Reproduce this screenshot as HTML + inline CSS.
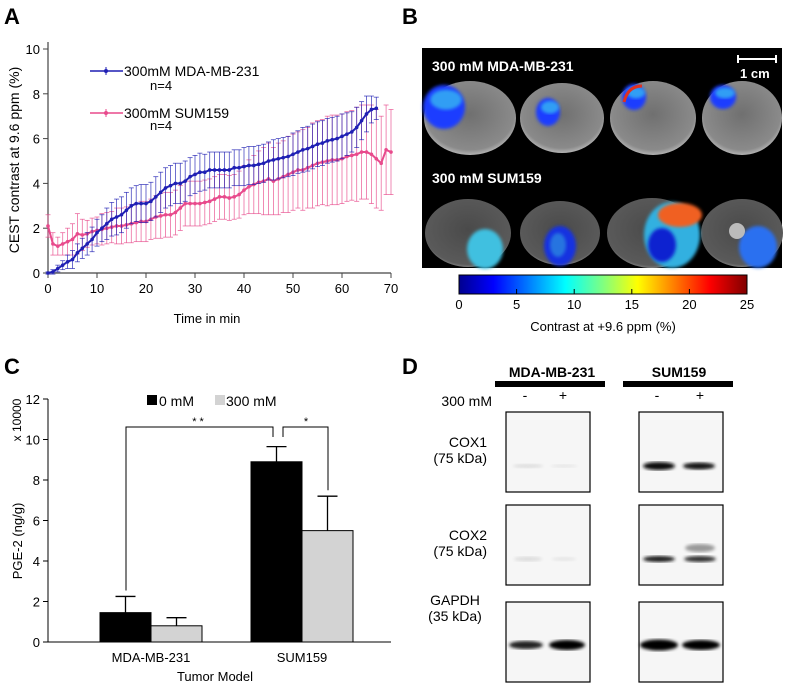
<!DOCTYPE html>
<html><head><meta charset="utf-8"><style>
body{margin:0;background:#fff;}
svg{display:block;font-family:"Liberation Sans",Arial,sans-serif;}
</style></head><body>
<svg id="fig" width="788" height="685" viewBox="0 0 788 685" xmlns="http://www.w3.org/2000/svg">
<defs>
<linearGradient id="jet" x1="0" x2="1" y1="0" y2="0">
<stop offset="0" stop-color="#00008f"/><stop offset="0.12" stop-color="#0000ff"/><stop offset="0.37" stop-color="#00ffff"/><stop offset="0.5" stop-color="#80ff80"/><stop offset="0.62" stop-color="#ffff00"/><stop offset="0.87" stop-color="#ff0000"/><stop offset="1" stop-color="#800000"/>
</linearGradient>
<radialGradient id="mri" cx="0.5" cy="0.45" r="0.6"><stop offset="0" stop-color="#707070"/><stop offset="0.8" stop-color="#8a8a8a"/><stop offset="1" stop-color="#d0d0d0"/></radialGradient>
<radialGradient id="mri2" cx="0.5" cy="0.45" r="0.6"><stop offset="0" stop-color="#4a4a4a"/><stop offset="0.85" stop-color="#5a5a5a"/><stop offset="1" stop-color="#a0a0a0"/></radialGradient>
<filter id="blur"><feGaussianBlur stdDeviation="1.6"/></filter>
</defs>
<text x="4" y="24" font-size="22" font-weight="bold">A</text>
<text x="402" y="24" font-size="22" font-weight="bold">B</text>
<text x="4" y="374" font-size="22" font-weight="bold">C</text>
<text x="402" y="374" font-size="22" font-weight="bold">D</text>
<g id="pa"></g>
<g id="pb"></g>
<g id="pc"></g>
<g id="pd"></g>
</svg>
<script>
// ---- Panel A data ----
const timeMin = [0,1,2,3,4,5,6,7,8,9,10,11,12,13,14,15,16,17,18,19,20,21,22,23,24,25,26,27,28,29,30,31,32,33,34,35,36,37,38,39,40,41,42,43,44,45,46,47,48,49,50,51,52,53,54,55,56,57,58,59,60,61,62,63,64,65,66,67,68,69,70];
const mdaMean = [0,0.05,0.2,0.35,0.5,0.6,0.9,1.1,1.3,1.5,1.8,2.0,2.2,2.4,2.5,2.6,2.8,3.0,3.1,3.1,3.1,3.2,3.4,3.6,3.8,3.9,4.0,4.0,4.1,4.3,4.4,4.5,4.5,4.6,4.6,4.6,4.6,4.6,4.7,4.7,4.75,4.8,4.8,4.85,4.9,5.0,5.05,5.1,5.15,5.2,5.3,5.4,5.5,5.55,5.65,5.75,5.8,5.9,5.95,6.0,6.1,6.2,6.3,6.5,6.8,7.1,7.3,7.35];
const mdaErr = [0.05,0.1,0.15,0.2,0.3,0.4,0.4,0.45,0.5,0.55,0.6,0.6,0.7,0.75,0.8,0.8,0.8,0.8,0.8,0.85,0.85,0.85,0.9,0.9,0.9,0.9,0.9,0.9,0.9,0.85,0.85,0.85,0.8,0.8,0.8,0.8,0.8,0.8,0.8,0.8,0.85,0.85,0.85,0.85,0.85,0.85,0.9,0.9,0.9,0.9,0.95,0.95,1.0,1.0,1.0,1.0,1.0,1.0,1.0,1.0,1.0,0.95,0.9,0.9,0.85,0.8,0.6,0.5];
const sumMean = [2.1,1.3,1.2,1.3,1.4,1.5,1.75,1.7,1.75,1.85,1.9,1.95,2.0,2.05,2.1,2.1,2.15,2.2,2.25,2.3,2.3,2.4,2.5,2.55,2.6,2.6,2.7,2.9,3.1,3.1,3.1,3.1,3.15,3.2,3.3,3.4,3.4,3.35,3.4,3.5,3.7,3.85,3.95,4.05,4.1,4.2,4.1,4.2,4.3,4.4,4.5,4.6,4.6,4.7,4.8,4.9,4.95,5.0,5.05,5.05,5.1,5.2,5.25,5.3,5.4,5.4,5.3,5.1,4.9,5.5,5.4];
const sumErr = [0.5,0.5,0.4,0.5,0.6,0.7,0.9,0.7,0.6,0.6,0.6,0.7,0.7,0.7,0.8,0.8,0.8,0.85,0.85,0.9,0.9,0.9,0.95,1.0,1.0,1.0,1.0,1.0,1.0,1.0,1.0,1.0,1.0,1.0,1.0,1.0,1.0,1.0,1.0,1.05,1.1,1.2,1.3,1.4,1.5,1.6,1.5,1.6,1.6,1.7,1.7,1.7,1.8,1.8,1.9,1.9,1.9,2.0,2.0,2.0,2.0,2.0,2.0,2.1,2.1,2.1,2.2,2.2,2.1,2.0,1.9];
const aXTicks = [0,10,20,30,40,50,60,70];
const aYTicks = [0,2,4,6,8,10];
// ---- Panel C data ----
const cCategories = ['MDA-MB-231','SUM159'];
const cSeries0 = [1.45,8.9];
const cSeries300 = [0.8,5.5];
const cErr0 = [0.8,0.75];
const cErr300 = [0.4,1.7];
const cYTicks = [0,2,4,6,8,10,12];
// ---- Panel B colorbar ticks ----
const bTicks = [0,5,10,15,20,25];

const NS='http://www.w3.org/2000/svg';
function mk(parent,tag,attrs,txt){const e=document.createElementNS(NS,tag);for(const k in attrs)e.setAttribute(k,attrs[k]);if(txt!==undefined)e.textContent=txt;parent.appendChild(e);return e;}

// ===== Panel A =====
(function(){
const g=document.getElementById('pa');
const xA=v=>48+v*(391-48)/70, yA=v=>273-v*(273-49)/10;
let e=mk(g,'line',{x1:48,y1:42,x2:48,y2:273,stroke:'#444','stroke-width':1.2});

e=mk(g,'line',{x1:48,y1:273,x2:391,y2:273,stroke:'#444','stroke-width':1.2});

aXTicks.forEach(t=>{mk(g,'line',{x1:xA(t),y1:273,x2:xA(t),y2:278,stroke:'#444'});
 e=mk(g,'text',{x:xA(t),y:293,'font-size':13,'text-anchor':'middle'},String(t));
 });
aYTicks.forEach(t=>{mk(g,'line',{x1:43,y1:yA(t),x2:48,y2:yA(t),stroke:'#444'});
 e=mk(g,'text',{x:40,y:yA(t)+5,'font-size':13,'text-anchor':'end'},String(t));
 });
e=mk(g,'text',{x:207,y:323,'font-size':13,'text-anchor':'middle'},'Time in min');

e=mk(g,'text',{x:0,y:0,'font-size':14,'text-anchor':'middle',transform:'translate(19,160) rotate(-90)'},'CEST contrast at 9.6 ppm (%)');

function series(mean,err,color,name){
 const sg=mk(g,'g',{});
 mean.forEach((m,i)=>{const x=xA(timeMin[i]);
  mk(sg,'line',{x1:x,y1:yA(m-err[i]),x2:x,y2:yA(m+err[i]),stroke:color,'stroke-width':0.8,opacity:0.8});
  mk(sg,'line',{x1:x-2.5,y1:yA(m+err[i]),x2:x+2.5,y2:yA(m+err[i]),stroke:color,'stroke-width':0.8,opacity:0.8});
  mk(sg,'line',{x1:x-2.5,y1:yA(m-err[i]),x2:x+2.5,y2:yA(m-err[i]),stroke:color,'stroke-width':0.8,opacity:0.8});});
 const pts=mean.map((m,i)=>xA(timeMin[i])+','+yA(m)).join(' ');
 mk(sg,'polyline',{points:pts,fill:'none',stroke:color,'stroke-width':2});
 mean.forEach((m,i)=>{const c=mk(sg,'circle',{cx:xA(timeMin[i]),cy:yA(m),r:1.8,fill:color});
  });
}
series(sumMean,sumErr,'#e84a8c','series-sum159');
series(mdaMean,mdaErr,'#1f1fb4','series-mda-mb-231');
const lg=mk(g,'g',{});
[[71,'#1f1fb4','300mM MDA-MB-231',90],[113,'#e84a8c','300mM SUM159',130]].forEach(r=>{
 mk(lg,'line',{x1:90,y1:r[0],x2:123,y2:r[0],stroke:r[1],'stroke-width':1.5});
 mk(lg,'line',{x1:106,y1:r[0]-4,x2:106,y2:r[0]+4,stroke:r[1]});
 mk(lg,'circle',{cx:106,cy:r[0],r:2,fill:r[1]});
 e=mk(lg,'text',{x:124,y:r[0]+5,'font-size':14},r[2]);
 
 mk(lg,'text',{x:150,y:r[3],'font-size':13},'n=4');});
})();

// ===== Panel B =====
(function(){
const g=document.getElementById('pb');
let e=mk(g,'rect',{x:422,y:48,width:360,height:220,fill:'#000'});

const top=[[470,118,46,37],[562,118,42,35],[653,118,43,37],[742,118,40,37]];
const bot=[[468,233,43,34],[560,233,40,32],[652,233,45,35],[742,233,41,34]];
top.forEach(c=>{e=mk(g,'ellipse',{cx:c[0],cy:c[1],rx:c[2],ry:c[3],fill:'url(#mri)'});
 });
bot.forEach(c=>{e=mk(g,'ellipse',{cx:c[0],cy:c[1],rx:c[2],ry:c[3],fill:'url(#mri2)'});
 });
const blobsT=[[444,107,21,22],[548,112,12,14],[634,97,12,13],[723,97,13,12]];
blobsT.forEach(b=>{mk(g,'ellipse',{cx:b[0],cy:b[1],rx:b[2],ry:b[3],fill:'#1a3cff',filter:'url(#blur)'});
 mk(g,'ellipse',{cx:b[0]+2,cy:b[1]-b[3]/3,rx:b[2]*0.75,ry:b[3]*0.45,fill:'#3ac8f0',opacity:0.7,filter:'url(#blur)'});});
mk(g,'path',{d:'M624,102 Q628,86 642,86',stroke:'#e03020','stroke-width':3,fill:'none'});
const blobsB=[[485,249,18,20,'#40c0e0'],[560,246,16,20,'#1530e0'],[672,235,28,33,'#30b0e0'],[758,247,19,21,'#2a70f0']];
blobsB.forEach(b=>{mk(g,'ellipse',{cx:b[0],cy:b[1],rx:b[2],ry:b[3],fill:b[4],filter:'url(#blur)'});});
mk(g,'ellipse',{cx:558,cy:245,rx:8,ry:12,fill:'#30a0e0',opacity:0.6,filter:'url(#blur)'});
mk(g,'ellipse',{cx:680,cy:215,rx:22,ry:12,fill:'#f06020',filter:'url(#blur)'});
mk(g,'ellipse',{cx:662,cy:245,rx:14,ry:17,fill:'#1020d0',filter:'url(#blur)'});
mk(g,'circle',{cx:737,cy:231,r:8,fill:'#bbb'});
e=mk(g,'text',{x:432,y:71,'font-size':14,'font-weight':'bold',fill:'#fff'},'300 mM MDA-MB-231');

e=mk(g,'text',{x:432,y:183,'font-size':14,'font-weight':'bold',fill:'#fff'},'300 mM SUM159');

mk(g,'path',{d:'M738,55 v8 M738,59 H776 M776,55 v8',stroke:'#fff','stroke-width':2,fill:'none'});
e=mk(g,'text',{x:740,y:78,'font-size':13,'font-weight':'bold',fill:'#fff'},'1 cm');

e=mk(g,'rect',{x:459,y:275,width:288,height:19,fill:'url(#jet)',stroke:'#000','stroke-width':1});

const xB=v=>459+v*288/25;
bTicks.forEach(t=>{mk(g,'line',{x1:xB(t),y1:289,x2:xB(t),y2:294,stroke:'#000'});
 e=mk(g,'text',{x:xB(t),y:309,'font-size':13,'text-anchor':'middle'},String(t));
 });
e=mk(g,'text',{x:603,y:331,'font-size':13,'text-anchor':'middle'},'Contrast at +9.6 ppm (%)');

})();

// ===== Panel C =====
(function(){
const g=document.getElementById('pc');
const yC=v=>642-v*(642-399)/12;
const groupX=[151,302], bw=51;
let e=mk(g,'line',{x1:48,y1:399,x2:48,y2:642,stroke:'#000'});

e=mk(g,'line',{x1:48,y1:642,x2:391,y2:642,stroke:'#000'});

cYTicks.forEach(t=>{mk(g,'line',{x1:43,y1:yC(t),x2:48,y2:yC(t),stroke:'#000'});
 e=mk(g,'text',{x:40,y:yC(t)+5,'font-size':13,'text-anchor':'end'},String(t));
 });
cCategories.forEach((c,i)=>{
 const x=groupX[i];
 e=mk(g,'rect',{x:x-bw,y:yC(cSeries0[i]),width:bw,height:yC(0)-yC(cSeries0[i]),fill:'#000',stroke:'#000'});
 
 e=mk(g,'rect',{x:x,y:yC(cSeries300[i]),width:bw,height:yC(0)-yC(cSeries300[i]),fill:'#d3d3d3',stroke:'#000'});
 
 [[x-bw/2,cSeries0[i],cErr0[i]],[x+bw/2,cSeries300[i],cErr300[i]]].forEach(b=>{
  mk(g,'line',{x1:b[0],y1:yC(b[1]),x2:b[0],y2:yC(b[1]+b[2]),stroke:'#000','stroke-width':1.3});
  mk(g,'line',{x1:b[0]-10,y1:yC(b[1]+b[2]),x2:b[0]+10,y2:yC(b[1]+b[2]),stroke:'#000','stroke-width':1.3});});
 e=mk(g,'text',{x:x,y:662,'font-size':13,'text-anchor':'middle'},c);
 });
e=mk(g,'text',{x:215,y:681,'font-size':13,'text-anchor':'middle'},'Tumor Model');

e=mk(g,'text',{x:0,y:0,'font-size':13,'text-anchor':'middle',transform:'translate(22,541) rotate(-90)'},'PGE-2 (ng/g)');

e=mk(g,'text',{x:0,y:0,'font-size':12,'text-anchor':'middle',transform:'translate(21,420) rotate(-90)'},'x 10000');

const lg=mk(g,'g',{});
mk(lg,'rect',{x:147,y:395,width:10,height:10,fill:'#000'});
mk(lg,'text',{x:159,y:406,'font-size':14},'0 mM');
mk(lg,'rect',{x:215,y:395,width:10,height:10,fill:'#d3d3d3'});
mk(lg,'text',{x:226,y:406,'font-size':14},'300 mM');
const by=427;
mk(g,'path',{d:`M126,${yC(cSeries0[0]+cErr0[0])-6} V${by} H273 V${by+10}`,stroke:'#000',fill:'none'});
mk(g,'path',{d:`M283,${by+10} V${by} H328 V${yC(cSeries300[1]+cErr300[1])-6}`,stroke:'#000',fill:'none'});
e=mk(g,'text',{x:198,y:425,'font-size':11,'text-anchor':'middle'},'* *');

e=mk(g,'text',{x:306,y:425,'font-size':11,'text-anchor':'middle'},'*');

})();

// ===== Panel D =====
(function(){
const g=document.getElementById('pd');
let e;
[[552,495,'MDA-MB-231'],[679,623,'SUM159']].forEach(h=>{
 e=mk(g,'text',{x:h[0],y:377,'font-size':14,'font-weight':'bold','text-anchor':'middle'},h[2]);
 
 mk(g,'rect',{x:h[1],y:381,width:110,height:6,fill:'#000'});});
e=mk(g,'text',{x:492,y:406,'font-size':14,'text-anchor':'end'},'300 mM');

[[525,'-'],[563,'+'],[657,'-'],[700,'+']].forEach(s=>mk(g,'text',{x:s[0],y:400,'font-size':14,'text-anchor':'middle'},s[1]));
const rows=[[412,'COX1','(75 kDa)',447],[505,'COX2','(75 kDa)',540],[602,'GAPDH','(35 kDa)',605]];
rows.forEach(r=>{
 e=mk(g,'text',{x:r[1]==='GAPDH'?455:487,y:r[3],'font-size':14,'text-anchor':r[1]==='GAPDH'?'middle':'end'},r[1]);
 
 mk(g,'text',{x:r[1]==='GAPDH'?455:487,y:r[3]+16,'font-size':14,'text-anchor':r[1]==='GAPDH'?'middle':'end'},r[2]);
 [506,639].forEach(x=>{e=mk(g,'rect',{x:x,y:r[0],width:84,height:80,fill:'#f6f6f6',stroke:'#000','stroke-width':1.2});
  });});
function band(x,y,w,h,c){mk(g,'ellipse',{cx:x,cy:y,rx:w/2,ry:h/2,fill:c,filter:'url(#blur)'});}
band(528,466,30,4,'#ddd');band(564,466,26,3,'#e4e4e4');
band(659,466,32,8,'#111');band(699,466,32,7,'#181818');
band(528,559,28,5,'#ddd');band(564,559,24,4,'#e6e6e6');
band(659,559,32,6,'#1a1a1a');band(700,559,32,6,'#333');band(700,548,30,8,'#999');
band(526,645,34,8,'#222');band(567,645,36,10,'#000');
band(659,645,38,11,'#000');band(701,645,38,10,'#050505');
})();
</script>
</body></html>
